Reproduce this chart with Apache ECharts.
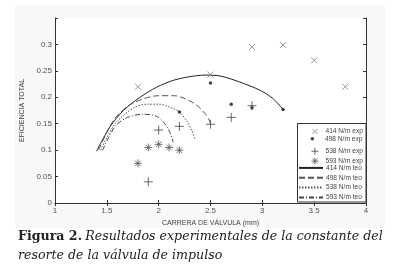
<!DOCTYPE html>
<html>
<head>
<meta charset="utf-8">
<script src="https://cdn.jsdelivr.net/npm/echarts@6/dist/echarts.min.js"></script>
<style>
html, body { margin: 0; padding: 0; background: #fff; }
#chart { width: 397px; height: 272px; }
</style>
</head>
<body>
<div id="chart"></div>
<script type="text/javascript">
// ejes
var xTicks = [1, 1.5, 2, 2.5, 3, 3.5, 4];
var yTicks = [0, 0.05, 0.1, 0.15, 0.2, 0.25, 0.3];

// datos experimentales [carrera mm, eficiencia]
var exp414 = [[1.8, 0.22], [2.5, 0.243], [2.9, 0.295], [3.2, 0.299], [3.5, 0.27], [3.8, 0.22]];
var exp498 = [[2.2, 0.172], [2.5, 0.227], [2.7, 0.187], [2.9, 0.18], [3.2, 0.177]];
var exp538 = [[1.9, 0.04], [2.0, 0.138], [2.2, 0.145], [2.5, 0.149], [2.7, 0.162], [2.9, 0.184]];
var exp593 = [[1.8, 0.075], [1.9, 0.105], [2.0, 0.111], [2.1, 0.105], [2.2, 0.1]];

// curvas teoricas
var teo414 = [[1.4, 0.098], [1.53, 0.144], [1.66, 0.175], [1.82, 0.2], [1.98, 0.219], [2.14, 0.232], [2.3, 0.239], [2.45, 0.242], [2.6, 0.24], [2.78, 0.229], [2.98, 0.213], [3.1, 0.198], [3.2, 0.177]];
var teo498 = [[1.42, 0.1], [1.56, 0.155], [1.7, 0.183], [1.85, 0.197], [2.0, 0.203], [2.15, 0.203], [2.27, 0.196], [2.36, 0.186], [2.43, 0.173], [2.48, 0.16], [2.5, 0.15]];
var teo538 = [[1.44, 0.1], [1.58, 0.15], [1.76, 0.18], [1.9, 0.187], [2.0, 0.187], [2.1, 0.182], [2.2, 0.172], [2.27, 0.155], [2.32, 0.137], [2.35, 0.12]];
var teo593 = [[1.46, 0.1], [1.58, 0.145], [1.7, 0.162], [1.85, 0.168], [1.98, 0.164], [2.06, 0.15], [2.11, 0.133], [2.14, 0.115]];

var names = ['414 N/m exp', '498 N/m exp', '538 N/m exp', '593 N/m exp',
             '414 N/m teo', '498 N/m teo', '538 N/m teo', '593 N/m teo'];

var pathX = 'path://M0,0L10,10M10,0L0,10';
var pathPlus = 'path://M5,0L5,10M0,5L10,5';
var pathStar = 'path://M5,0L5,10M0,5L10,5M1.5,1.5L8.5,8.5M8.5,1.5L1.5,8.5';
// iconos de leyenda: caja 3:1 para ocupar 24x8
var padX = 'path://M-23.8,-3M24.2,13M0,0L10,10M10,0L0,10';
var padPlus = 'path://M-15.6,-0.7M18.7,10.7M5,0L5,10M0,5L10,5';
var padStar = 'path://M-15.6,-0.7M18.7,10.7M5,0L5,10M0,5L10,5M1.5,1.5L8.5,8.5M8.5,1.5L1.5,8.5';
var padDot = 'path://M-16.4,-4.57M11,4.57M2,0A2,2,0,1,1,-2,0A2,2,0,1,1,2,0Z';

var myChart = echarts.init(document.getElementById('chart'));

function expSeries(name, data, symbol, size, color, filled) {
    return {
        name: name,
        type: 'scatter',
        data: data,
        symbol: symbol,
        symbolSize: size,
        symbolKeepAspect: true,
        itemStyle: filled ? { color: color } : { color: 'none', borderColor: color, borderWidth: 1 },
        z: 3
    };
}

function teoSeries(name, data, type, color) {
    return {
        name: name,
        type: 'line',
        data: data,
        smooth: 0.3,
        symbol: 'circle',
        symbolSize: 0,
        showSymbol: false,
        lineStyle: { color: color, width: 1, type: type },
        itemStyle: { color: 'rgba(0,0,0,0)' },
        z: 2
    };
}

var hidden = { color: 'rgba(0,0,0,0)', borderColor: 'rgba(0,0,0,0)', borderWidth: 0 };
var legendItems = [
    { name: names[0], icon: padX, itemStyle: { color: 'none', borderColor: '#808080', borderWidth: 1 } },
    { name: names[1], icon: padDot, itemStyle: { color: '#111', borderWidth: 0 } },
    { name: names[2], icon: padPlus, itemStyle: { color: 'none', borderColor: '#444', borderWidth: 1 } },
    { name: names[3], icon: padStar, itemStyle: { color: 'none', borderColor: '#555', borderWidth: 1 } },
    { name: names[4], itemStyle: hidden },
    { name: names[5], itemStyle: hidden },
    { name: names[6], itemStyle: hidden },
    { name: names[7], itemStyle: hidden }
];
var textShift = [-4, -2, -4, -4, -2, -2, -2, -2];

// una leyenda por fila, para fijar el paso entre filas
var legends = legendItems.map(function (item, i) {
    return {
        data: [item],
        orient: 'vertical',
        left: 298,
        top: 125 + i * 9.85,
        padding: 0,
        itemWidth: 24,
        itemHeight: 8,
        z: 6,
        textStyle: { color: '#444', fontSize: 6.6, fontFamily: 'Liberation Sans', padding: [0, 0, 0, textShift[i]] }
    };
});

var axisTxt = { color: '#555', fontSize: 8, fontFamily: 'Liberation Sans' };

var option = {
    animation: false,
    backgroundColor: '#fff',
    graphic: [
        { type: 'rect', shape: { x: 15, y: 5, width: 370, height: 223 }, style: { fill: '#f8f8f8' }, z: -10, silent: true },
        { type: 'rect', shape: { x: 55, y: 18, width: 311, height: 185 }, style: { fill: '#fff' }, z: -9, silent: true },
        { type: 'rect', shape: { x: 297.5, y: 123.5, width: 68.5, height: 78.5 }, style: { fill: '#fff', stroke: '#333', lineWidth: 1 }, z: 5, silent: true },
        {
            type: 'text', left: 18, top: 230,
            style: {
                text: '{b|Figura 2.} {i|Resultados experimentales de la constante del}\n{i|resorte de la válvula de impulso}',
                rich: {
                    b: { fontFamily: 'DejaVu Serif', fontWeight: 'bold', fontSize: 12.6, fill: '#222', lineHeight: 19 },
                    i: { fontFamily: 'DejaVu Serif', fontStyle: 'italic', fontSize: 12.6, fill: '#222', lineHeight: 19 }
                }
            }
        }
    ],
    grid: { left: 55, top: 18, right: 31, bottom: 69, show: false },
    legend: legends,
    xAxis: [
        {
            type: 'value', min: 1, max: 4, interval: 0.5,
            name: 'CARRERA DE VÁLVULA (mm)', nameLocation: 'middle', nameGap: 14,
            nameTextStyle: { color: '#444', fontSize: 7, fontFamily: 'Liberation Sans' },
            axisLine: { lineStyle: { color: '#333' } },
            axisTick: { inside: true, length: 3, lineStyle: { color: '#333' } },
            axisLabel: Object.assign({ margin: 4 }, axisTxt),
            splitLine: { show: false }
        },
        {
            type: 'value', min: 1, max: 4, interval: 0.5, position: 'top',
            axisLine: { show: true, lineStyle: { color: '#333' } },
            axisTick: { inside: true, length: 3, lineStyle: { color: '#333' } },
            axisLabel: { show: false },
            splitLine: { show: false }
        }
    ],
    yAxis: [
        {
            type: 'value', min: 0, max: 0.35, interval: 0.05,
            name: 'EFICIENCIA TOTAL', nameLocation: 'middle', nameGap: 21, nameRotate: 90,
            nameTextStyle: { color: '#444', fontSize: 7, fontFamily: 'Liberation Sans' },
            axisLine: { show: true, lineStyle: { color: '#333' } },
            axisTick: { inside: true, length: 3, lineStyle: { color: '#333' } },
            axisLabel: Object.assign({
                margin: 3,
                formatter: function (v) {
                    var r = Math.round(v * 100) / 100;
                    return yTicks.indexOf(r) >= 0 ? String(r) : '';
                }
            }, axisTxt),
            splitLine: { show: false }
        },
        {
            type: 'value', min: 0, max: 0.35, interval: 0.05, position: 'right',
            axisLine: { show: true, lineStyle: { color: '#333' } },
            axisTick: { inside: true, length: 3, lineStyle: { color: '#333' } },
            axisLabel: { show: false },
            splitLine: { show: false }
        }
    ],
    series: [
        expSeries(names[0], exp414, pathX, 6, '#808080', false),
        expSeries(names[1], exp498, 'circle', 3.5, '#111', true),
        expSeries(names[2], exp538, pathPlus, 9, '#444', false),
        expSeries(names[3], exp593, pathStar, 8, '#555', false),
        teoSeries(names[4], teo414, 'solid', '#222'),
        teoSeries(names[5], teo498, [6, 3], '#555'),
        teoSeries(names[6], teo538, [1.5, 1.5], '#555'),
        teoSeries(names[7], teo593, [5, 2, 1, 2], '#444')
    ]
};

myChart.setOption(option);
</script>
</body>
</html>
